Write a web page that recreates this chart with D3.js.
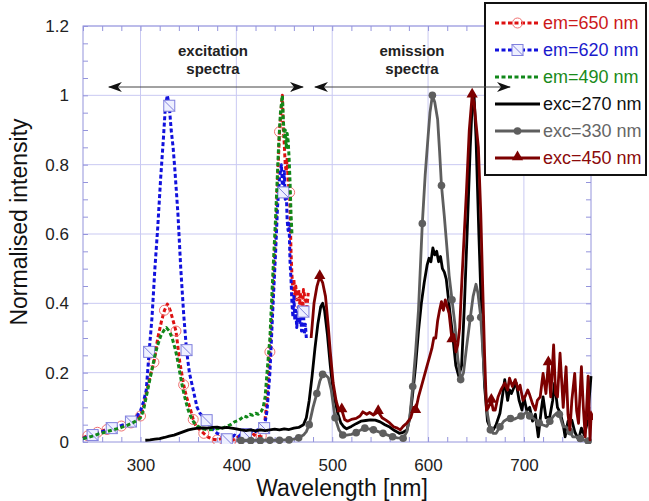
<!DOCTYPE html>
<html>
<head>
<meta charset="utf-8">
<script src="https://cdn.jsdelivr.net/npm/d3@7"></script>
<style>
  body { margin: 0; background: #fff; }
  svg { font-family: "Liberation Sans", Arial, sans-serif; }
</style>
</head>
<body>
<div id="chart"></div>
<script>
// excitation spectra [wavelength nm, normalised intensity]
var em650 = [[240,0.012],[245,0.018],[250,0.022],[255,0.028],[260,0.032],[265,0.036],[270,0.04],[275,0.043],[280,0.046],[285,0.05],[290,0.055],[295,0.062],[300,0.075],[303,0.1],[306,0.14],[310,0.19],[314,0.23],[318,0.3],[322,0.35],[325,0.38],[328,0.398],[331,0.38],[334,0.35],[337,0.32],[341,0.23],[345,0.165],[348,0.13],[352,0.095],[355,0.065],[358,0.045],[362,0.035],[366,0.025],[370,0.015],[375,0.008],[380,0.006],[385,0.01],[390,0.004],[394,0.002],[398,0.008],[402,0.015],[406,0.01],[410,0.02],[414,0.012],[418,0.022],[422,0.015],[426,0.018],[429,0.04],[432,0.12],[435,0.26],[438,0.42],[441,0.6],[443,0.75],[445,0.895],[447,0.97],[448,1.0],[449,0.9],[450,0.86],[451,0.8],[452,0.78],[453,0.82],[454,0.75],[455.6,0.72],[457,0.55],[458,0.48],[459,0.44],[460,0.47],[461,0.42],[462,0.45],[463,0.41],[465,0.44],[466,0.4],[467,0.43],[469,0.38],[470,0.44],[472,0.41],[473,0.37],[475,0.43]];
var em620 = [[240,0.01],[245,0.015],[250,0.02],[255,0.025],[260,0.03],[265,0.035],[270,0.04],[275,0.045],[280,0.048],[285,0.052],[290,0.059],[295,0.07],[300,0.09],[303,0.115],[306,0.15],[309,0.26],[312,0.36],[315,0.5],[318,0.62],[321,0.76],[324,0.88],[326,0.97],[328,1.0],[330,0.97],[332,0.9],[334,0.85],[336,0.78],[339,0.66],[342,0.5],[345,0.37],[348,0.265],[351,0.2],[355,0.15],[359,0.1],[362,0.083],[366,0.07],[369,0.063],[372,0.045],[376,0.035],[380,0.025],[384,0.02],[388,0.012],[390,0.008],[394,0.01],[398,0.02],[402,0.015],[406,0.025],[410,0.023],[414,0.03],[418,0.025],[422,0.035],[426,0.03],[429,0.04],[432,0.09],[435,0.2],[438,0.38],[441,0.55],[443,0.68],[445,0.76],[447,0.8],[448,0.74],[449,0.72],[450,0.78],[451,0.7],[452,0.73],[453,0.64],[454,0.61],[455,0.63],[456,0.52],[457,0.47],[458,0.4],[459,0.36],[460,0.42],[461,0.35],[462,0.38],[463,0.33],[465,0.39],[466,0.34],[467,0.38],[468,0.32],[470,0.376],[471,0.31],[472,0.34],[473,0.3]];
var em490 = [[240,0.01],[245,0.013],[250,0.017],[255,0.022],[260,0.026],[265,0.03],[270,0.034],[275,0.038],[280,0.042],[285,0.047],[290,0.053],[295,0.06],[300,0.07],[303,0.09],[306,0.13],[309,0.17],[312,0.21],[315,0.25],[318,0.28],[321,0.305],[324,0.32],[327,0.33],[330,0.32],[333,0.3],[336,0.27],[338,0.246],[341,0.2],[344,0.155],[347,0.12],[350,0.09],[353,0.07],[356,0.055],[360,0.045],[365,0.038],[370,0.035],[375,0.036],[380,0.038],[385,0.04],[390,0.045],[394,0.05],[398,0.058],[402,0.062],[405,0.068],[408,0.075],[411,0.072],[414,0.08],[417,0.077],[420,0.083],[423,0.08],[426,0.088],[428,0.1],[430,0.13],[432,0.2],[435,0.3],[438,0.48],[441,0.65],[444,0.85],[446,0.95],[448,1.0],[449,0.93],[450,0.88],[451,0.9],[452,0.85],[453,0.89],[454,0.87],[455,0.82],[456,0.75],[457,0.66],[458,0.6]];

// emission spectra
var exc270 = [[305,0.005],[310,0.006],[315,0.008],[320,0.01],[325,0.013],[330,0.017],[335,0.02],[340,0.025],[345,0.03],[350,0.035],[355,0.038],[360,0.04],[365,0.041],[370,0.04],[375,0.042],[380,0.043],[385,0.04],[390,0.042],[395,0.04],[400,0.038],[405,0.035],[410,0.033],[415,0.035],[420,0.032],[425,0.035],[430,0.033],[435,0.035],[440,0.037],[445,0.035],[450,0.038],[455,0.036],[460,0.04],[465,0.042],[470,0.05],[473,0.07],[476,0.12],[479,0.19],[482,0.27],[485,0.34],[488,0.39],[490,0.4],[492,0.38],[495,0.31],[498,0.22],[500,0.17],[503,0.12],[506,0.08],[509,0.055],[512,0.044],[515,0.038],[520,0.045],[525,0.053],[530,0.06],[535,0.062],[540,0.064],[545,0.063],[550,0.058],[555,0.05],[560,0.043],[565,0.033],[570,0.025],[574,0.028],[578,0.035],[581,0.07],[584,0.14],[587,0.22],[590,0.32],[593,0.4],[596,0.46],[599,0.51],[601,0.53],[603,0.52],[605,0.56],[607,0.54],[609,0.55],[611,0.52],[613,0.535],[615,0.5],[617,0.49],[619,0.47],[621,0.42],[623,0.37],[626,0.3],[629,0.22],[632,0.19],[635,0.22],[638,0.4],[641,0.62],[644,0.85],[646,0.97],[648,1.0],[650,0.88],[653,0.6],[656,0.35],[659,0.16],[662,0.06],[665,0.04],[668,0.035],[671,0.05],[675,0.083],[678,0.14],[680,0.18],[683,0.12],[685,0.15],[687,0.14],[690,0.16],[692,0.17],[695,0.12],[698,0.092],[700,0.13],[703,0.09],[706,0.1],[709,0.06],[712,0.08],[715,0.015],[718,0.09],[720,0.13],[723,0.07],[727,0.073],[730,0.12],[732,0.17],[735,0.1],[738,0.083],[741,0.05],[743,0.015],[746,0.06],[750,0.063],[753,0.03],[757,0.006],[760,0.04],[763,0.02],[766,0.054],[768,0.12],[770,0.19]];
var exc330 = [[400,0.005],[405,0.004],[410,0.005],[415,0.004],[420,0.005],[425,0.004],[430,0.005],[435,0.005],[440,0.005],[445,0.005],[450,0.006],[455,0.006],[460,0.008],[465,0.012],[470,0.02],[473,0.03],[476,0.05],[480,0.1],[484,0.14],[487,0.175],[490,0.195],[493,0.193],[496,0.185],[499,0.15],[503,0.07],[507,0.035],[511,0.02],[515,0.02],[520,0.022],[525,0.027],[530,0.035],[534,0.04],[538,0.038],[543,0.035],[548,0.03],[553,0.025],[558,0.02],[563,0.015],[568,0.012],[574,0.011],[578,0.03],[581,0.073],[584,0.16],[587,0.26],[590,0.38],[594,0.63],[597,0.77],[600,0.88],[602,0.95],[604.5,1.0],[607,0.98],[610,0.93],[612,0.84],[614,0.74],[617,0.65],[620,0.55],[622,0.48],[625,0.41],[628,0.34],[631,0.24],[634,0.18],[637,0.2],[640,0.27],[644,0.357],[647,0.42],[650,0.455],[652,0.43],[655,0.36],[657,0.27],[659,0.18],[662,0.08],[665,0.035],[668,0.025],[671,0.025],[675,0.044],[679,0.06],[682,0.065],[686,0.068],[690,0.066],[693,0.07],[697,0.075],[700,0.08],[703,0.087],[706,0.075],[709,0.07],[712,0.063],[716,0.055],[720,0.049],[724,0.045],[727,0.06],[731,0.075],[734,0.083],[737,0.08],[741,0.044],[744,0.044],[748,0.03],[751,0.015],[755,0.015],[759,0.01],[763,0.005],[767,0.003]];
var exc450 = [[478,0.3],[481,0.4],[484,0.448],[487,0.477],[490,0.46],[493,0.42],[496,0.33],[498,0.26],[501,0.17],[504,0.12],[507,0.09],[510,0.092],[513,0.065],[516,0.06],[520,0.065],[525,0.068],[529,0.075],[532,0.087],[536,0.08],[539,0.085],[543,0.078],[548,0.087],[552,0.07],[556,0.063],[560,0.055],[564,0.044],[568,0.04],[571,0.035],[574,0.045],[578,0.055],[582,0.07],[585,0.1],[587,0.09],[590,0.13],[593,0.16],[596,0.19],[599,0.22],[601,0.24],[604,0.27],[606,0.3],[608,0.3],[610,0.35],[612,0.38],[614,0.405],[616,0.38],[618,0.41],[620,0.39],[622,0.37],[625,0.294],[627,0.31],[629,0.26],[631,0.28],[633,0.33],[635,0.45],[637,0.56],[640,0.72],[643,0.9],[646,1.0],[648,0.98],[650,0.92],[652.5,0.85],[655,0.66],[657,0.45],[659,0.25],[661,0.092],[663,0.1],[666,0.12],[668,0.092],[670,0.092],[673,0.13],[676,0.15],[680,0.17],[683,0.15],[685,0.184],[688,0.16],[691,0.18],[694,0.15],[696,0.164],[699,0.12],[701,0.13],[704,0.15],[706,0.136],[709,0.11],[712,0.092],[714,0.12],[717,0.13],[720,0.198],[723,0.14],[725.5,0.228],[728,0.13],[731,0.28],[733,0.14],[735,0.13],[737.7,0.256],[741,0.1],[744,0.217],[746,0.08],[748,0.035],[750,0.12],[753,0.198],[755,0.09],[757,0.054],[760,0.217],[762,0.1],[764,0.015],[767,0.19],[769,0.006],[770,0.07]];

// wavelengths of the samples that carry a symbol
var em650Marks = [245, 255, 265, 278, 290, 300, 314, 325, 336, 345, 355, 366, 380, 393, 410, 426, 435, 445, 455.6, 466];
var em620Marks = [250, 270, 290, 309, 330, 348, 369, 390, 410, 429, 449, 470];
var exc330Marks = [404, 414, 425, 435, 445, 455, 465, 476, 484, 490, 503, 511, 525, 534, 543, 553, 563, 574, 584, 594, 604.5, 614, 625, 634, 644, 655, 665, 675, 686, 697, 706, 716, 727, 737, 748, 759, 767];
var exc450Marks = [487, 510, 548, 587, 625, 646, 666, 725.5, 770];

var legendLabels = ["em=650 nm", "em=620 nm", "em=490 nm", "exc=270 nm", "exc=330 nm", "exc=450 nm"];
var xTickLabels = [300, 400, 500, 600, 700];
var yTickLabels = [0, 0.2, 0.4, 0.6, 0.8, 1, 1.2];

function init() {
    var width = 649, height = 501;
    var margin = { top: 26, right: 58, bottom: 59, left: 83 };
    var w = width - margin.left - margin.right;
    var h = height - margin.top - margin.bottom;

    var gridColor = "#c9c9f2";
    var frameColor = "#9494dc";

    var x = d3.scaleLinear().domain([240, 770]).range([0, w]);
    var y = d3.scaleLinear().domain([0, 1.2]).range([h, 0]);

    var svg = d3.select("#chart").append("svg")
        .attr("width", width)
        .attr("height", height);

    var defs = svg.append("defs");
    defs.append("clipPath").attr("id", "clip")
        .append("rect").attr("x", -2).attr("y", -8).attr("width", w + 4).attr("height", h + 10);
    defs.append("marker")
        .attr("id", "head")
        .attr("markerUnits", "userSpaceOnUse")
        .attr("viewBox", "0 0 14 10")
        .attr("refX", 13).attr("refY", 5)
        .attr("markerWidth", 14).attr("markerHeight", 10)
        .attr("orient", "auto-start-reverse")
        .append("path")
        .attr("d", "M0,0 L14,5 L0,10 L4,5 Z")
        .attr("fill", "#111");

    var g = svg.append("g").attr("transform", "translate(" + margin.left + "," + margin.top + ")");

    // grid
    g.append("g").selectAll("line").data(xTickLabels).enter().append("line")
        .attr("x1", d => x(d)).attr("x2", d => x(d)).attr("y1", 0).attr("y2", h)
        .attr("stroke", gridColor).attr("stroke-width", 1);
    g.append("g").selectAll("line").data(yTickLabels.slice(1)).enter().append("line")
        .attr("x1", 0).attr("x2", w).attr("y1", d => y(d)).attr("y2", d => y(d))
        .attr("stroke", gridColor).attr("stroke-width", 1);

    // inward ticks on all four sides
    var xMinor = d3.range(240, 771, 20);
    var yMinor = d3.range(0, 1.2001, 0.05);
    function styleAxis(sel) {
        sel.select(".domain").remove();
        sel.selectAll("line").attr("stroke", frameColor);
        sel.selectAll("text").remove();
    }
    g.append("g").attr("transform", "translate(0," + h + ")")
        .call(d3.axisBottom(x).tickValues(xMinor).tickSize(-5)).call(styleAxis);
    g.append("g")
        .call(d3.axisTop(x).tickValues(xMinor).tickSize(-5)).call(styleAxis);
    g.append("g")
        .call(d3.axisLeft(y).tickValues(yMinor).tickSize(-5)).call(styleAxis);
    g.append("g").attr("transform", "translate(" + w + ",0)")
        .call(d3.axisRight(y).tickValues(yMinor).tickSize(-5)).call(styleAxis);

    g.append("rect").attr("width", w).attr("height", h)
        .attr("fill", "none").attr("stroke", frameColor).attr("stroke-width", 1);

    // tick labels
    g.append("g").attr("transform", "translate(0," + h + ")")
        .call(d3.axisBottom(x).tickValues(xTickLabels).tickSize(0).tickPadding(17))
        .call(a => a.select(".domain").remove())
        .selectAll("text").attr("font-size", 17).attr("fill", "#222")
        .attr("font-family", "Liberation Sans, Arial, sans-serif");
    g.append("g")
        .call(d3.axisLeft(y).tickValues(yTickLabels).tickSize(0).tickPadding(14).tickFormat(d3.format("")))
        .call(a => a.select(".domain").remove())
        .selectAll("text").attr("font-size", 17).attr("fill", "#222")
        .attr("font-family", "Liberation Sans, Arial, sans-serif");

    // axis titles
    svg.append("text")
        .attr("x", 342).attr("y", 496)
        .attr("text-anchor", "middle")
        .attr("font-size", 23).attr("fill", "#111")
        .text("Wavelength [nm]");
    svg.append("text")
        .attr("transform", "translate(27,222) rotate(-90)")
        .attr("text-anchor", "middle")
        .attr("font-size", 23).attr("fill", "#111")
        .text("Normalised intensity");

    var series = [
        { name: legendLabels[0], data: em650, marks: em650Marks, color: "#dd1111", text: "#cc1a1a", dash: "4,2.5", width: 3, marker: "circle", mcolor: "#f07070" },
        { name: legendLabels[1], data: em620, marks: em620Marks, color: "#1111dd", text: "#1a1acc", dash: "4,2.5", width: 3, marker: "square", mcolor: "#7f7fdd" },
        { name: legendLabels[2], data: em490, marks: [], color: "#11881a", text: "#1a8a1a", dash: "4,2.5", width: 3, marker: null },
        { name: legendLabels[3], data: exc270, marks: [], color: "#000000", text: "#111111", dash: null, width: 2.8, marker: null },
        { name: legendLabels[4], data: exc330, marks: exc330Marks, color: "#5e5e5e", text: "#666666", dash: null, width: 2.8, marker: "dot", mcolor: "#5e5e5e" },
        { name: legendLabels[5], data: exc450, marks: exc450Marks, color: "#7d0000", text: "#8b0a0a", dash: null, width: 2.8, marker: "triangle", mcolor: "#7d0000" }
    ];

    var line = d3.line().x(d => x(d[0])).y(d => y(d[1]));
    var plot = g.append("g").attr("clip-path", "url(#clip)");

    function drawMarker(sel, s, cx, cy) {
        if (s.marker === "circle") {
            sel.append("circle").attr("cx", cx).attr("cy", cy).attr("r", 5)
                .attr("fill", "none").attr("stroke", s.mcolor).attr("stroke-width", 1);
        } else if (s.marker === "square") {
            sel.append("rect").attr("x", cx - 5.5).attr("y", cy - 5.5).attr("width", 11).attr("height", 11)
                .attr("fill", "#eef0ff").attr("stroke", s.mcolor).attr("stroke-width", 1);
            sel.append("line").attr("x1", cx - 5.5).attr("y1", cy - 5.5).attr("x2", cx + 5.5).attr("y2", cy + 5.5)
                .attr("stroke", s.mcolor).attr("stroke-width", 1);
        } else if (s.marker === "dot") {
            sel.append("circle").attr("cx", cx).attr("cy", cy).attr("r", 3.8).attr("fill", s.mcolor);
        } else if (s.marker === "triangle") {
            sel.append("path")
                .attr("d", d3.symbol().type(d3.symbolTriangle).size(55)())
                .attr("transform", "translate(" + cx + "," + (cy - 1) + ")")
                .attr("fill", s.mcolor);
        }
    }

    // nearest recorded sample to a marked wavelength
    function sampleAt(data, wl) {
        return data.reduce((best, d) => Math.abs(d[0] - wl) < Math.abs(best[0] - wl) ? d : best, data[0]);
    }

    series.forEach(function (s) {
        plot.append("path").datum(s.data)
            .attr("d", line)
            .attr("fill", "none")
            .attr("stroke", s.color)
            .attr("stroke-width", s.width)
            .attr("stroke-linejoin", "round")
            .attr("stroke-dasharray", s.dash);
        var mg = plot.append("g");
        s.marks.forEach(function (wl) {
            var d = sampleAt(s.data, wl);
            drawMarker(mg, s, x(d[0]), y(d[1]));
        });
    });

    // legend
    var lg = svg.append("g");
    lg.append("rect").attr("x", 485).attr("y", 3).attr("width", 161).attr("height", 172)
        .attr("fill", "#fff").attr("stroke", "#111").attr("stroke-width", 2);
    series.forEach(function (s, i) {
        var cy = 23 + i * 27;
        lg.append("line").attr("x1", 495).attr("x2", 540).attr("y1", cy).attr("y2", cy)
            .attr("stroke", s.color).attr("stroke-width", s.width)
            .attr("stroke-dasharray", s.dash);
        if (s.marker) drawMarker(lg, s, 517.5, cy);
        lg.append("text").attr("x", 543).attr("y", cy)
            .attr("dy", "0.36em")
            .attr("font-size", 18)
            .attr("fill", s.text)
            .text(s.name);
    });

    // spectral region arrows (ends given in nm)
    var arrows = [
        { from: 267, to: 469.5, label: ["excitation", "spectra"], cx: 213 },
        { from: 482, to: 685.5, label: ["emission", "spectra"], cx: 412 }
    ];
    arrows.forEach(function (a) {
        svg.append("line")
            .attr("x1", margin.left + x(a.from)).attr("x2", margin.left + x(a.to))
            .attr("y1", 87).attr("y2", 87)
            .attr("stroke", "#444").attr("stroke-width", 1)
            .attr("marker-start", "url(#head)")
            .attr("marker-end", "url(#head)");
        a.label.forEach(function (t, j) {
            svg.append("text")
                .attr("x", a.cx).attr("y", 56 + j * 18)
                .attr("text-anchor", "middle")
                .attr("font-size", 15).attr("font-weight", "bold")
                .attr("fill", "#222")
                .text(t);
        });
    });
}

window.onload = init;
</script>
</body>
</html>
